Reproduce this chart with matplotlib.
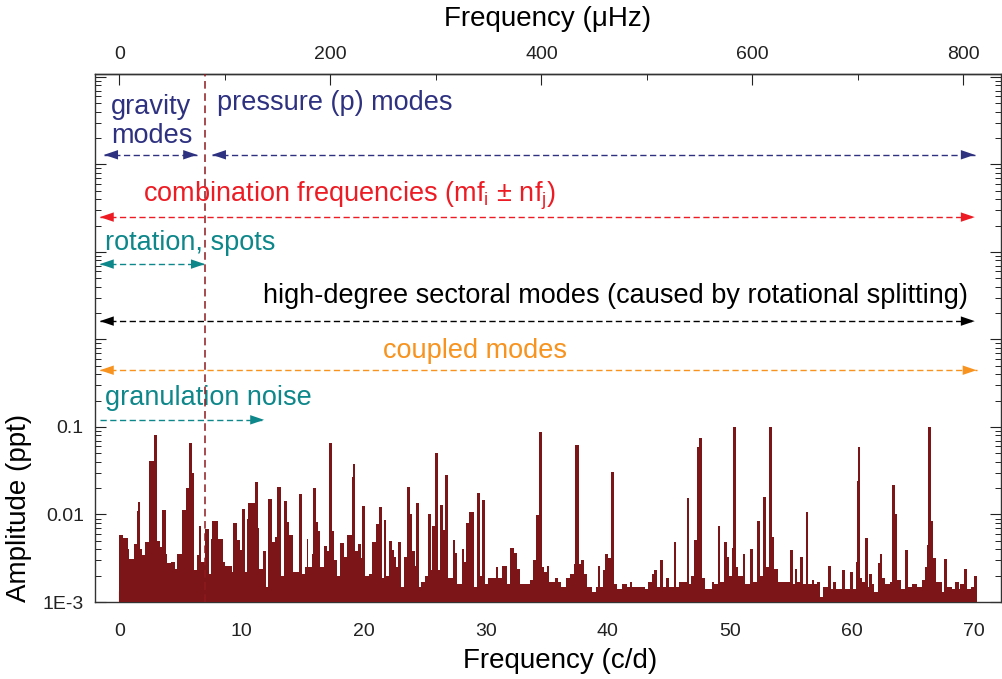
import matplotlib
matplotlib.use('Agg')
import matplotlib.pyplot as plt
from matplotlib.transforms import blended_transform_factory
from matplotlib.ticker import FixedLocator, LogLocator, FuncFormatter, NullFormatter

plt.rcParams['font.family'] = ['Liberation Sans', 'DejaVu Sans']
plt.rcParams['mathtext.fontset'] = 'custom'
plt.rcParams['mathtext.rm'] = 'Liberation Sans'

# Spectrum: start frequency of each step (c/d) and amplitude (ppt)
freq = [0.00, 0.30, 0.74, 0.82, 1.23, 1.48, 1.56, 1.70, 1.83, 2.10, 2.46, 2.84, 3.09, 3.36, 3.47,
        3.80, 3.88, 4.20, 4.56, 4.70, 5.11, 5.44, 5.71, 5.98, 6.14, 6.34, 6.55, 6.69, 7.02, 7.35,
        7.51, 7.56, 8.11, 8.52, 8.66, 9.20, 9.34, 9.61, 9.88, 10.02, 10.29,
        10.43, 10.57, 11.11, 11.33, 11.44, 11.72, 11.99, 12.21, 12.48, 12.75, 12.94, 13.22, 13.49,
        13.71, 13.90, 14.20, 14.72, 14.99, 15.21, 15.34, 15.48, 15.75, 15.89, 16.14, 16.30, 16.46,
        16.79, 17.01, 17.20, 17.45, 17.61, 17.80, 18.07, 18.40, 18.62, 19.03, 19.11, 19.31, 19.50,
        19.58, 19.77, 19.90, 20.12, 20.45, 20.72, 21.02, 21.27, 21.49, 21.63, 21.87, 22.09, 22.31,
        22.47, 22.63, 22.80, 23.07, 23.29,
        23.54, 23.81, 24.00, 24.22, 24.30, 24.57, 24.71, 25.04, 25.25, 25.50, 25.64, 25.86, 26.07,
        26.27, 26.54, 26.68, 26.89, 27.28, 27.49, 27.63, 28.04, 28.26, 28.40, 28.64, 29.00, 29.32,
        29.57, 29.73, 29.95, 30.22, 30.82, 31.04, 31.37, 31.72, 32.00, 32.32, 32.54, 32.82, 33.64,
        33.91, 34.13, 34.40, 34.59, 34.81, 35.00, 35.19,
        35.69, 35.96, 36.17, 36.56, 36.91, 37.19, 37.35, 37.62, 37.79, 38.03, 38.28, 38.74, 39.01,
        39.18, 39.40, 39.64, 39.78, 40.05, 40.27, 40.54, 40.74, 41.15, 41.55, 41.83, 42.02, 42.51,
        43.05, 43.33, 43.60, 43.82, 44.04, 44.28, 44.56, 44.77, 45.05, 45.38, 45.59, 45.79, 46.47,
        46.66, 46.83, 47.07, 47.29, 47.48, 47.70,
        47.97, 48.52, 48.73, 49.01, 49.22, 49.55, 49.74, 49.93, 50.15, 50.23, 50.48, 50.70, 51.03,
        51.24, 51.66, 51.90, 52.23, 52.47, 52.69, 52.94, 53.21, 53.48, 53.65, 53.97, 54.93, 55.20,
        55.34, 55.53, 55.75, 55.97, 56.21, 56.43, 56.71, 56.90, 57.17, 57.39, 57.66, 58.07, 58.26,
        58.48, 58.67, 59.16, 59.44,
        59.57, 59.84, 60.12, 60.31, 60.40, 60.48, 60.64, 60.80, 61.07, 61.29, 61.40, 61.62, 61.84,
        62.11, 62.30, 62.49, 62.71, 63.12, 63.31, 63.53, 63.67, 64.02, 64.35, 64.57, 64.89, 65.30,
        65.77, 65.98, 66.17, 66.26, 66.50, 66.67, 66.86, 67.35, 67.57, 67.76, 68.17, 68.44, 68.72,
        68.85, 69.18, 69.40, 69.75, 70.03]
freq_end = 70.22
amp = [0.0058, 0.0054, 0.0040, 0.0031, 0.0046, 0.0110, 0.0140, 0.0040, 0.0034, 0.0049, 0.041, 0.082,
       0.0050, 0.0042, 0.0112, 0.0035, 0.0028, 0.0029, 0.0024, 0.0035, 0.0112, 0.020, 0.066, 0.0295,
       0.0023, 0.0034, 0.0074, 0.0029, 0.0069, 0.0021, 0.0053, 0.0085, 0.0053, 0.0029, 0.0026,
       0.0022, 0.0079, 0.0051, 0.0039, 0.0117, 0.0022,
       0.0090, 0.0134, 0.0233, 0.0070, 0.0024, 0.0038, 0.0015, 0.0150, 0.0049, 0.0056, 0.0205,
       0.0020, 0.0143, 0.0083, 0.0059, 0.0022, 0.0171, 0.0021, 0.0025, 0.0053, 0.0025, 0.0035,
       0.0199, 0.0083, 0.0064, 0.0025, 0.0044, 0.0038, 0.065, 0.0064, 0.0030, 0.0020, 0.0047,
       0.0033, 0.0058, 0.0270, 0.0374, 0.0038, 0.0023, 0.0046, 0.0032, 0.0125, 0.0020, 0.0021,
       0.0048, 0.0078, 0.0123, 0.0019, 0.0086, 0.0020, 0.0050, 0.0039, 0.0033, 0.0025, 0.0048,
       0.0015, 0.0033,
       0.0208, 0.0101, 0.0038, 0.0026, 0.0134, 0.0015, 0.0017, 0.0020, 0.0101, 0.0023, 0.0073,
       0.051, 0.0023, 0.0129, 0.0067, 0.0282, 0.0019, 0.0051, 0.0036, 0.0016, 0.0040, 0.0029,
       0.0079, 0.0108, 0.0015, 0.0175, 0.0020, 0.0145, 0.0016, 0.0019, 0.0025, 0.0019, 0.0026,
       0.0016, 0.0041, 0.0036, 0.0024, 0.0016, 0.0018, 0.0030, 0.0099, 0.0885, 0.0025, 0.0022,
       0.0026, 0.0017,
       0.0019, 0.0017, 0.0015, 0.0019, 0.0021, 0.0027, 0.062, 0.0027, 0.0030, 0.0021, 0.0015,
       0.0013, 0.0015, 0.0026, 0.0015, 0.0023, 0.0035, 0.0032, 0.0309, 0.0016, 0.0014, 0.0016,
       0.0015, 0.0017, 0.0015, 0.0015, 0.0014, 0.0017, 0.0021, 0.0023, 0.0015, 0.0030, 0.0015,
       0.0019, 0.0015, 0.0049, 0.0015, 0.0017, 0.0153, 0.0016, 0.0020, 0.0051, 0.0596, 0.0755,
       0.0019,
       0.0014, 0.0017, 0.0016, 0.0073, 0.0017, 0.0049, 0.0033, 0.0020, 0.0041, 0.100, 0.0025,
       0.0020, 0.0035, 0.0016, 0.0040, 0.0017, 0.0084, 0.0020, 0.0160, 0.0025, 0.100, 0.0056,
       0.0024, 0.0017, 0.0039, 0.0016, 0.0024, 0.0017, 0.0033, 0.0016, 0.0108, 0.0016, 0.0018,
       0.0016, 0.0017, 0.00115, 0.0015, 0.0026, 0.0014, 0.0017, 0.0014, 0.0023, 0.0014,
       0.0014, 0.0022, 0.0014, 0.0029, 0.024, 0.0585, 0.0019, 0.0017, 0.0054, 0.0015, 0.0021,
       0.0016, 0.0013, 0.0028, 0.0035, 0.0019, 0.0016, 0.0017, 0.0217, 0.0101, 0.0018, 0.0014,
       0.0039, 0.0015, 0.0016, 0.0015, 0.0018, 0.0025, 0.0045, 0.100, 0.0085, 0.0032, 0.0017,
       0.0013, 0.0031, 0.0015, 0.0014, 0.0017, 0.0014, 0.0016, 0.0024, 0.0014, 0.0015, 0.0020]

# Frequency ranges of the different signal types (c/d) and their row (axes fraction)
labels = ['gravity\nmodes', 'pressure (p) modes',
          'combination frequencies (mf$_\\mathrm{i}$ \u00b1 nf$_\\mathrm{j}$)',
          'rotation, spots',
          'high-degree sectoral modes (caused by rotational splitting)',
          'coupled modes', 'granulation noise']
label_x = [-0.68, 8.02, 1.95, -1.17, 11.76, 21.6, -1.17]
label_y = [0.869, 0.932, 0.759, 0.667, 0.566, 0.462, 0.373]
colors = ['#2e3180', '#2e3180', '#ed1c24', '#0d878a', 'black', '#f7931e', '#0d878a']
arrow_from = [-1.25, 7.59, -1.6, -1.6, -1.6, -1.6, -1.6]
arrow_to = [6.36, 70.05, 70.05, 7.0, 70.05, 70.2, 11.85]
arrow_y = [0.847, 0.847, 0.729, 0.640, 0.532, 0.439, 0.345]
arrow_left = [True, True, True, True, True, True, False]

border = 7.0  # g-mode / p-mode boundary, c/d

fig = plt.figure(figsize=(10.03, 6.79), dpi=100)
ax = fig.add_axes([0.0947, 0.1134, 0.9033, 0.7776])

ax.stairs(amp, freq + [freq_end], baseline=1e-3, fill=True, color='#7b1518', zorder=3)
ax.axvline(border, color='#8e1a1f', lw=1.1, ls=(0, (5, 3)), zorder=4)

ax.set_yscale('log')
ax.set_xlim(-2.0, 72.2)
ax.set_ylim(1e-3, 1081)

trans = blended_transform_factory(ax.transData, ax.transAxes)
for i in range(len(labels)):
    ax.text(label_x[i], label_y[i], labels[i], transform=trans, color=colors[i],
            fontsize=19.5, ha='left', va='baseline', linespacing=1.15)
    y = arrow_y[i]
    ax.plot([arrow_from[i], arrow_to[i]], [y, y], transform=trans, color=colors[i],
            lw=1.0, ls=(0, (4.5, 2.5)), clip_on=False)
    head = dict(arrowstyle='-|>,head_length=0.5,head_width=0.17', color=colors[i],
                lw=0, mutation_scale=20, shrinkA=0, shrinkB=0)
    ax.annotate('', xy=(arrow_to[i], y), xytext=(arrow_to[i] - 1.5, y),
                xycoords=trans, textcoords=trans, arrowprops=head)
    if arrow_left[i]:
        ax.annotate('', xy=(arrow_from[i], y), xytext=(arrow_from[i] + 1.5, y),
                    xycoords=trans, textcoords=trans, arrowprops=head)

# axes, ticks
ax.xaxis.set_major_locator(FixedLocator(range(0, 71, 10)))
ax.yaxis.set_major_locator(LogLocator(base=10, numticks=20))
ax.yaxis.set_minor_locator(LogLocator(base=10, subs=range(2, 10), numticks=20))
shown = {1e-3: '1E-3', 1e-2: '0.01', 1e-1: '0.1'}
ax.yaxis.set_major_formatter(FuncFormatter(
    lambda v, p: next((s for k, s in shown.items() if abs(v - k) / k < 1e-6), '')))
ax.yaxis.set_minor_formatter(NullFormatter())
ax.tick_params(axis='x', which='both', direction='in', top=False, length=8,
               labelsize=14, pad=15, colors='#222222')
ax.tick_params(axis='y', which='major', direction='in', right=True, length=8,
               labelsize=14, pad=8, colors='#222222')
ax.tick_params(axis='y', which='minor', direction='in', right=True, length=4)

secax = ax.secondary_xaxis('top', functions=(lambda f: f / 0.0864, lambda u: u * 0.0864))
secax.xaxis.set_major_locator(FixedLocator([0, 200, 400, 600, 800]))
secax.xaxis.set_minor_locator(FixedLocator([100, 300, 500, 700]))
secax.tick_params(which='major', direction='in', length=8, labelsize=14, pad=8, colors='#222222')
secax.tick_params(which='minor', direction='in', length=4)
secax.set_xlabel('Frequency (\u03bcHz)', fontsize=20, labelpad=14)

for sp in list(ax.spines.values()) + list(secax.spines.values()):
    sp.set_color('#333333')
    sp.set_linewidth(1.0)

ax.set_xlabel('Frequency (c/d)', fontsize=20)
ax.xaxis.set_label_coords(0.513, -0.088)
ax.set_ylabel('Amplitude (ppt)', fontsize=20)
ax.yaxis.set_label_coords(-0.069, 0.178)

fig.savefig('out.png', dpi=100)
